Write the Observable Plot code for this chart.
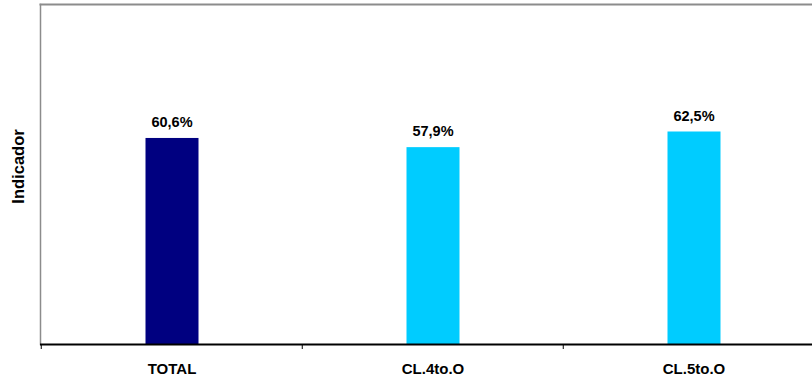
<!DOCTYPE html>
<html>
<head>
<meta charset="utf-8">
<script src="https://cdn.jsdelivr.net/npm/d3@7"></script>
<script src="https://cdn.jsdelivr.net/npm/@observablehq/plot@0.6"></script>
<style>
  html, body { margin: 0; padding: 0; background: #fff; }
  svg { display: block; }
</style>
</head>
<body>
<div id="chart"></div>
<script>
const categories = ["TOTAL", "CL.4to.O", "CL.5to.O"];
const values = [60.6, 57.9, 62.5];
const labels = ["60,6%", "57,9%", "62,5%"];
const colors = ["#000080", "#00CCFF", "#00CCFF"];
const yLabel = "Indicador";

const data = categories.map((c, i) => ({cat: c, value: values[i], label: labels[i], color: colors[i]}));

const W = 812, H = 383;
const mL = 40, mT = 4, mB = 39;
const band = 261.5;

const chart = Plot.plot({
  width: W,
  height: H,
  marginLeft: mL,
  marginRight: 0,
  marginTop: mT,
  marginBottom: mB,
  style: {fontFamily: "Arial, 'Liberation Sans', sans-serif", background: "#fff", overflow: "visible"},
  x: {domain: categories, range: [mL, mL + band * categories.length], padding: 0, axis: null},
  y: {domain: [0, 100], axis: null},
  marks: [
    Plot.frame({anchor: "top", stroke: "#8c8c8c", strokeWidth: 2}),
    Plot.frame({anchor: "left", stroke: "#8c8c8c", strokeWidth: 1.5}),
    Plot.barY(data, {x: "cat", y: "value", fill: "color", insetLeft: 104.5, insetRight: 103.5}),
    Plot.text(data, {x: "cat", y: "value", text: "label", dy: -16, fontWeight: "bold", fontSize: 14.5, fill: "#000"}),
    Plot.ruleY([0], {stroke: "#000", strokeWidth: 2}),
    Plot.ruleX(data, {x: "cat", y1: 0, y2: 0, dx: -band / 2, insetBottom: -5, stroke: "#000", strokeWidth: 1}),
    Plot.axisX({tickSize: 0, tickPadding: 19, fontSize: 15, fontWeight: "bold", label: null, color: "#000"}),
    Plot.text([yLabel], {frameAnchor: "left", textAnchor: "middle", rotate: -90, dx: -22, dy: -8, fontWeight: "bold", fontSize: 16.5, letterSpacing: "1px", fill: "#000"})
  ]
});
document.getElementById("chart").appendChild(chart);
</script>
</body>
</html>
